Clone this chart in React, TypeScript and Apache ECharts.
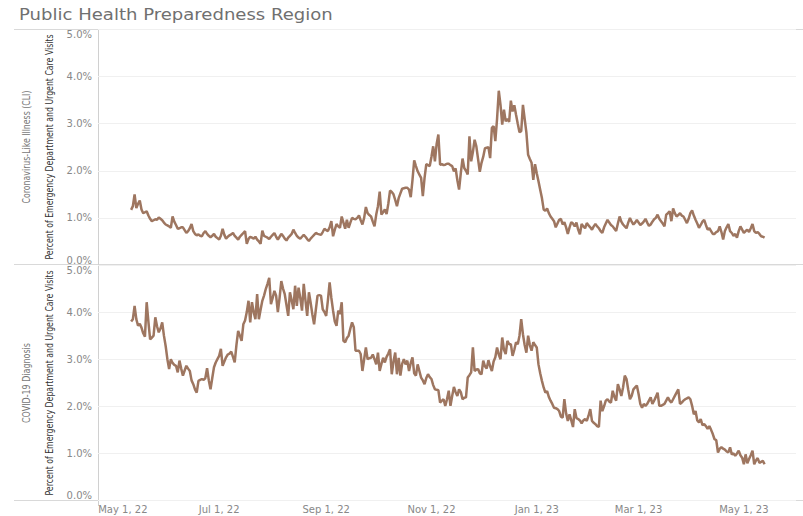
import React, { useEffect, useRef } from "react";
import * as echarts from "echarts";

const titleText = "Public Health Preparedness Region";
const panelNames = ["Coronavirus-Like Illness (CLI)", "COVID-19 Diagnosis"];
const axisTitle = "Percent of Emergency Department and Urgent Care Visits";

// daily series start date (one value per consecutive day)
const startDate = "2022-05-11";
const axisOrigin = "2022-05-01";

const tickDates = ["2022-05-01", "2022-07-01", "2022-09-01", "2022-11-01", "2023-01-01", "2023-03-01", "2023-05-01"];
const tickLabels = ["May 1, 22", "Jul 1, 22", "Sep 1, 22", "Nov 1, 22", "Jan 1, 23", "Mar 1, 23", "May 1, 23"];

// Coronavirus-Like Illness (CLI), percent of visits
const cliValues = [
  1.17, 1.25, 1.50, 1.21, 1.30, 1.37, 1.18, 1.10, 1.12, 1.14,
  1.05, 0.98, 0.93, 0.95, 0.97, 0.96, 1.01, 0.98, 0.95, 0.90,
  0.86, 0.84, 0.82, 0.79, 1.03, 0.92, 0.85, 0.77, 0.78, 0.80,
  0.80, 0.74, 0.68, 0.72, 0.78, 0.87, 0.72, 0.66, 0.63, 0.65,
  0.62, 0.61, 0.68, 0.72, 0.66, 0.62, 0.59, 0.62, 0.66,
  0.60, 0.57, 0.54, 0.62, 0.77, 0.64, 0.56, 0.60, 0.63, 0.65,
  0.68, 0.62, 0.58, 0.54, 0.60, 0.64, 0.68, 0.72, 0.45, 0.55,
  0.60, 0.58, 0.56, 0.60, 0.54, 0.50, 0.45, 0.73, 0.62, 0.60,
  0.58, 0.55, 0.60, 0.64, 0.68, 0.60, 0.54, 0.60, 0.66, 0.62,
  0.56, 0.52, 0.58, 0.62, 0.66, 0.75, 0.68, 0.62, 0.58,
  0.56, 0.60, 0.64, 0.60, 0.55, 0.51, 0.56, 0.60, 0.64, 0.68,
  0.66, 0.65, 0.64, 0.70, 0.77, 0.74, 0.72, 0.80, 0.93, 0.61,
  0.75, 0.87, 0.82, 0.79, 1.03, 0.90, 0.77, 0.96, 0.79, 0.90,
  1.00, 0.98, 0.97, 1.00, 1.05, 0.95, 0.86, 1.00, 1.23, 1.10,
  1.06, 1.03, 0.92, 0.82, 1.07, 1.25, 1.56, 1.07, 1.12, 1.18,
  1.08, 1.30, 1.58, 1.55, 1.50, 1.38, 1.25, 1.42, 1.52,
  1.62, 1.63, 1.64, 1.64, 1.60, 1.44, 1.80, 2.22, 2.10, 1.99,
  1.92, 1.85, 1.46, 1.85, 2.14, 2.12, 2.10, 2.30, 2.52, 2.20,
  2.57, 2.77, 2.13, 2.14, 2.12, 2.13, 2.15, 2.15, 2.12,
  2.10, 1.99, 2.05, 1.80, 1.60, 1.95, 2.26, 2.06, 2.00, 1.92,
  2.73, 2.20, 2.40, 2.66, 2.52, 2.25, 1.98, 2.17, 2.30, 2.48,
  2.49, 2.50, 2.27, 2.91, 2.95, 2.63, 3.10, 3.70, 3.40, 2.98,
  3.30, 3.05, 3.10, 3.04, 3.49, 3.26, 3.39, 3.19, 3.00, 2.82,
  2.84, 3.40, 3.10, 2.81, 2.34, 2.25, 2.17, 1.81, 2.14, 1.95,
  1.78, 1.60, 1.42, 1.18, 1.15, 1.20, 1.10, 1.03, 0.98, 0.93,
  0.80, 0.88, 0.96, 0.98, 0.86, 0.91, 0.80, 0.66, 0.80, 0.91,
  0.88, 0.82, 0.90, 0.75, 0.65, 0.87, 0.82, 0.78, 0.89,
  0.84, 0.80, 0.75, 0.82, 0.87, 0.82, 0.78, 0.72, 0.68, 0.80,
  0.88, 0.96, 0.90, 0.85, 0.82, 0.77, 0.72, 0.88, 1.03, 0.92,
  0.86, 0.82, 0.78, 0.90, 1.00, 0.92, 0.86, 0.90, 0.96, 0.90,
  0.85, 0.88, 0.92, 0.98, 0.90, 0.83, 0.86, 0.92, 0.97,
  1.00, 1.07, 0.98, 0.93, 0.88, 0.82, 1.07, 1.10, 1.14, 0.93,
  1.20, 1.10, 1.03, 1.06, 1.10, 1.05, 1.03, 0.96, 0.89, 0.98,
  1.10, 1.16, 1.05, 0.96, 0.88, 0.79, 0.85, 0.92, 0.96, 0.85,
  0.75, 0.78, 0.72, 0.66, 0.66, 0.70, 0.72, 0.82, 0.70,
  0.54, 0.72, 0.80, 0.87, 0.72, 0.68, 0.62, 0.66, 0.58, 0.72,
  0.82, 0.75, 0.68, 0.72, 0.75, 0.70, 0.78, 0.87, 0.72, 0.68,
  0.70, 0.66, 0.61, 0.60, 0.58,
];

// COVID-19 Diagnosis, percent of visits
const covidValues = [
  3.80, 3.85, 4.13, 3.85, 3.71, 3.75, 3.67, 3.55, 3.48, 4.21,
  3.80, 3.42, 3.46, 3.50, 3.89, 3.70, 3.57, 3.65, 3.78, 3.50,
  3.28, 3.00, 2.79, 3.00, 2.92, 2.88, 2.86, 2.72, 2.97, 2.80,
  2.65, 2.76, 2.86, 2.80, 2.75, 2.55, 2.47, 2.36, 2.29, 2.54,
  2.56, 2.58, 2.56, 2.60, 2.81, 2.55, 2.36, 2.60, 2.83,
  2.93, 3.00, 3.07, 3.22, 2.86, 2.95, 3.04, 3.10, 3.12, 3.16,
  3.05, 2.93, 3.30, 3.60, 3.50, 3.39, 3.74, 3.82, 4.00, 4.24,
  3.78, 4.21, 4.00, 3.85, 4.38, 3.85, 4.05, 4.24, 4.35, 4.49,
  4.60, 4.73, 4.17, 4.30, 4.45, 4.35, 4.00, 4.30, 4.66, 4.50,
  4.38, 4.15, 3.92, 4.42, 4.25, 4.06, 4.56, 4.13, 4.52,
  4.30, 4.03, 4.60, 4.25, 3.92, 4.42, 4.20, 3.95, 3.74, 4.05,
  4.35, 4.36, 4.35, 4.06, 4.00, 3.92, 4.25, 4.63, 4.30, 4.03,
  3.80, 3.71, 4.03, 3.96, 4.21, 3.39, 3.36, 3.45, 3.50, 3.65,
  3.78, 3.68, 3.18, 3.18, 3.18, 3.11, 2.75, 3.00, 3.25, 3.00,
  3.02, 3.03, 3.10, 3.00, 2.89, 3.14, 2.75, 2.90, 3.03, 2.93,
  3.05, 3.12, 3.21, 2.68, 2.95, 3.14, 2.68, 3.03, 2.65,
  2.90, 3.00, 2.89, 2.97, 2.75, 2.92, 3.04, 2.70, 2.65, 2.89,
  2.75, 2.61, 2.55, 2.47, 2.60, 2.68, 2.62, 2.58, 2.45, 2.36,
  2.35, 2.34, 2.08, 2.12, 2.15, 2.01, 2.15, 2.33, 2.01,
  2.22, 2.41, 2.30, 2.22, 2.36, 2.30, 2.15, 2.18, 2.19, 2.61,
  2.66, 2.72, 3.25, 2.75, 2.78, 2.79, 2.70, 2.68, 2.97, 2.85,
  2.80, 2.98, 2.85, 2.75, 2.95, 3.04, 3.25, 3.10, 3.00, 3.46,
  3.20, 3.11, 3.39, 3.32, 3.32, 3.07, 3.20, 3.36, 3.32, 3.50,
  3.85, 3.53, 3.30, 3.14, 3.50, 3.30, 3.18, 3.36, 3.30, 3.25,
  2.89, 2.70, 2.54, 2.40, 2.29, 2.32, 2.20, 2.12, 2.05, 1.97,
  1.96, 1.94, 1.90, 1.78, 1.76, 2.15, 1.85, 1.69, 1.83, 1.70,
  1.56, 1.94, 1.75, 1.73, 1.70, 1.64, 1.70, 1.73, 1.69,
  1.80, 1.94, 1.69, 1.65, 1.62, 1.58, 1.56, 2.12, 1.90, 2.00,
  2.12, 2.15, 2.10, 2.08, 2.33, 2.20, 2.12, 2.47, 2.36, 2.22,
  2.40, 2.65, 2.58, 2.35, 2.15, 2.22, 2.36, 2.40, 2.44, 2.26,
  2.05, 1.97, 2.05, 2.01, 2.05, 2.12, 2.19, 2.05, 2.12,
  2.20, 2.29, 2.01, 2.01, 2.03, 2.05, 2.12, 2.19, 2.12, 2.08,
  2.15, 2.22, 2.29, 2.36, 2.05, 2.08, 2.12, 2.15, 2.17, 2.19,
  2.15, 2.01, 1.83, 1.90, 1.70, 1.66, 1.73, 1.60, 1.62, 1.58,
  1.52, 1.58, 1.50, 1.41, 1.30, 1.28, 1.02, 1.10, 1.13,
  1.10, 1.08, 1.04, 1.02, 1.13, 0.98, 1.00, 0.95, 1.00, 1.06,
  0.96, 0.91, 0.77, 0.98, 0.79, 0.88, 0.96, 1.06, 0.77, 0.85,
  0.90, 0.80, 0.82, 0.84, 0.77,
];

const DAY = 86400000;
const LINE_COLOR = "#9e7660";
const NARROW = "'Liberation Sans Narrow', 'DejaVu Sans Condensed', 'Roboto Condensed', sans-serif";
const TICK_FONT = "'DejaVu Sans', sans-serif";

const dayOffset = (iso: string) =>
  Math.round((new Date(iso + "T00:00:00Z").getTime() - new Date(axisOrigin + "T00:00:00Z").getTime()) / DAY);

const measure = (text: string, font: string) => {
  const ctx = document.createElement("canvas").getContext("2d");
  if (!ctx) return 0;
  ctx.font = font;
  return ctx.measureText(text).width;
};

export default function App() {
  const ref = useRef<HTMLDivElement>(null);

  useEffect(() => {
    if (!ref.current) return;
    const chart = echarts.init(ref.current, undefined, { renderer: "svg" });
    const start = dayOffset(startDate);
    const tickDays = tickDates.map(dayOffset);
    const toSeries = (vals: number[]) => vals.map((v, i) => [start + i, v]);
    const xMin = -9.2;
    const xMax = 395.2;

    const grids = [
      { left: 98, right: 7, top: 29.5, height: 235.5 },
      { left: 98, right: 7, top: 265, height: 235.5 },
    ];
    const panelCenters = [147, 383];

    const labelBase = { color: "#888", fontSize: 10, fontFamily: TICK_FONT };
    const xAxes = grids.map((_, i) => ({
      type: "value",
      gridIndex: i,
      min: xMin,
      max: xMax,
      axisLine: { show: false },
      axisTick: { show: false },
      splitLine: { show: false },
      axisLabel:
        i === 1
          ? {
              show: true,
              customValues: tickDays,
              formatter: (v: number) => {
                const idx = tickDays.indexOf(Math.round(v));
                if (idx < 0) return "";
                return idx === 0 ? `{first|${tickLabels[idx]}}` : tickLabels[idx];
              },
              rich: { first: { ...labelBase, padding: [0, 0, 0, 18] } },
              ...labelBase,
              margin: 4,
              hideOverlap: false,
            }
          : { show: false },
    }));

    const yAxes = grids.map((_, i) => ({
      type: "value",
      gridIndex: i,
      min: 0,
      max: 5,
      interval: 1,
      axisLine: { show: false },
      axisTick: { show: false },
      splitLine: { show: true, lineStyle: { color: "#f0f0f0", width: 1 } },
      axisLabel: {
        formatter: (v: number) => v.toFixed(1) + "%",
        ...labelBase,
        margin: 6,
        verticalAlignMinLabel: "bottom",
        verticalAlignMaxLabel: "top",
      },
    }));

    const titleFont = "16px 'DejaVu Sans', sans-serif";
    const narrowFont = `10px ${NARROW}`;
    const titleScale = 314 / (measure(titleText, titleFont) || 314);
    const axisTitleScale = 225 / (measure(axisTitle, narrowFont) || 225);

    const lineStyle = { stroke: "#d9d9d9", lineWidth: 1 };
    const graphics: any[] = [
      {
        type: "text",
        x: 19,
        y: 14,
        scaleX: titleScale,
        style: {
          text: titleText,
          fill: "#707070",
          font: titleFont,
          textAlign: "left",
          textVerticalAlign: "middle",
        },
      },
      { type: "line", shape: { x1: 14, y1: 29.5, x2: 803, y2: 29.5 }, style: lineStyle },
      { type: "line", shape: { x1: 14, y1: 264.5, x2: 803, y2: 264.5 }, style: lineStyle },
      { type: "line", shape: { x1: 14, y1: 500.5, x2: 803, y2: 500.5 }, style: lineStyle },
      { type: "line", shape: { x1: 98.5, y1: 29.5, x2: 98.5, y2: 506 }, style: { stroke: "#d0d0d0", lineWidth: 1 } },
    ];
    panelNames.forEach((name, i) => {
      const rowScale = i === 0 ? 113 / (measure(name, narrowFont) || 113) : 80 / (measure(name, narrowFont) || 80);
      graphics.push({
        type: "text",
        x: 26,
        y: panelCenters[i],
        rotation: Math.PI / 2,
        scaleX: rowScale,
        style: {
          text: name,
          fill: "#777",
          font: narrowFont,
          textAlign: "center",
          textVerticalAlign: "middle",
        },
      });
      graphics.push({
        type: "text",
        x: 49,
        y: panelCenters[i],
        rotation: Math.PI / 2,
        scaleX: axisTitleScale,
        style: {
          text: axisTitle,
          fill: "#333",
          font: narrowFont,
          textAlign: "center",
          textVerticalAlign: "middle",
        },
      });
    });

    chart.setOption({
      animation: false,
      backgroundColor: "#ffffff",
      grid: grids,
      xAxis: xAxes,
      yAxis: yAxes,
      graphic: graphics,
      series: [cliValues, covidValues].map((vals, i) => ({
        type: "line",
        xAxisIndex: i,
        yAxisIndex: i,
        data: toSeries(vals),
        showSymbol: false,
        symbol: "none",
        lineStyle: { color: LINE_COLOR, width: 2.5 },
        itemStyle: { color: LINE_COLOR },
        emphasis: { disabled: true },
      })),
    });

    return () => chart.dispose();
  }, []);

  return (
    <div
      ref={ref}
      style={{ position: "fixed", left: 0, top: 0, width: 803, height: 516, background: "#fff" }}
    />
  );
}
